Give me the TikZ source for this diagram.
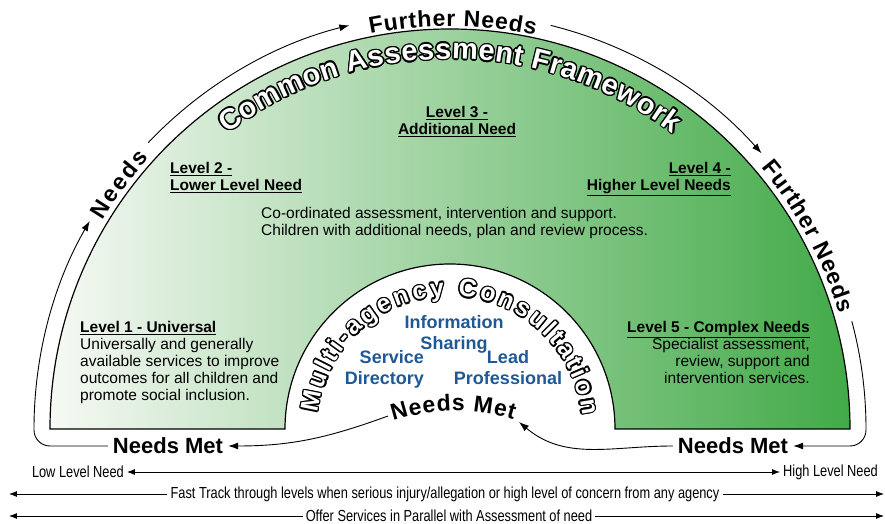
\documentclass[tikz,border=0pt]{standalone}
\usepackage{fontspec}
\setmainfont{Liberation Sans}
\newfontfamily\narrowfont[FakeStretch=0.8]{Liberation Sans}
\usetikzlibrary{arrows.meta,decorations.text}
\definecolor{paleleaf}{RGB}{246,249,244}
\definecolor{deepleaf}{RGB}{66,170,72}
\definecolor{infoblue}{RGB}{31,88,150}
\newcommand\loopfont{\fontsize{23}{23}\selectfont\bfseries}
\newcommand\framefont{\fontsize{29}{29}\selectfont\bfseries}
\newcommand\agencyfont{\fontsize{25}{25}\selectfont\bfseries}

\begin{document}
\begin{tikzpicture}[x=1pt,y=1pt,
    body/.style={inner sep=0pt,font=\fontsize{15.5}{17}\selectfont},
    blue/.style={inner sep=0pt,text=infoblue,font=\fontsize{18}{21}\selectfont\bfseries},
    needsmet/.style={inner sep=5pt,font=\fontsize{22}{22}\selectfont\bfseries},
    narrow/.style={inner sep=3pt,font=\fontsize{16}{16}\narrowfont},
    arctext/.style={decorate,decoration={text along path,text align=fit to path,text={#1}}},
    loopline/.style={line width=0.9pt,-{Latex[length=10pt,width=7pt]}},
    twoway/.style={line width=0.8pt,{Latex[length=8pt,width=6pt]}-{Latex[length=8pt,width=6pt]}},
    oneway/.style={line width=0.8pt,-{Latex[length=8pt,width=6pt]}}]
  \useasboundingbox (-450,-95) rectangle (435,429);

  % the banded half disc with the arch cut out
  \path[left color=paleleaf,right color=deepleaf,draw=black,line width=1.2pt]
    (-400,0) arc[start angle=180,end angle=0,radius=400]
    -- (165,0) arc[start angle=0,end angle=180,radius=165] -- cycle;

  % outlined titles: black copies round about, white on top
  \foreach \a in {0,30,...,330} {
    \path[shift={(\a:1.4)},arctext={|\framefont|Common Assessment Framework},
      decoration={text color=black}]
      (127:370) arc[start angle=127,end angle=53,radius=370];
    \path[shift={(\a:1.4)},arctext={|\agencyfont|Multi-agency Consultation},
      decoration={text color=black}]
      (173:133) arc[start angle=173,end angle=6,radius=133];
  }
  \path[arctext={|\framefont|Common Assessment Framework},decoration={text color=white}]
    (127:370) arc[start angle=127,end angle=53,radius=370];
  \path[arctext={|\agencyfont|Multi-agency Consultation},decoration={text color=white}]
    (173:133) arc[start angle=173,end angle=6,radius=133];

  % levels
  \node[body,align=center,anchor=north] (lvl3) at (7,323)
    {\underline{\textbf{Level 3 -}}\\\underline{\textbf{Additional Need}}};
  \node[body,align=left,anchor=north west] (lvl2) at (-280,267)
    {\underline{\textbf{Level 2 -}}\\\underline{\textbf{Lower Level Need}}};
  \node[body,align=right,anchor=north east] (lvl4) at (281,267)
    {\underline{\textbf{Level 4 -}}\\\underline{\textbf{Higher Level Needs}}};
  \node[body,align=left,anchor=north west] (coord) at (-189,222)
    {Co-ordinated assessment, intervention and support.\\Children with additional needs, plan and review process.};
  \node[body,align=left,anchor=north west] (lvl1) at (-370,108)
    {\underline{\textbf{Level 1 - Universal}}\\Universally and generally\\available services to improve\\outcomes for all children and\\promote social inclusion.};
  \node[body,align=right,anchor=north east] (lvl5) at (360,108)
    {\underline{\textbf{Level 5 - Complex Needs}}\\Specialist assessment,\\review, support and\\intervention services.};

  % multi-agency tools
  \node[blue,align=center,anchor=north] (info) at (4,114) {Information\\Sharing};
  \node[blue,align=right,anchor=north east] (service) at (-26,79) {Service\\Directory};
  \node[blue,align=center,anchor=north] (lead) at (58,79) {Lead\\Professional};

  % needs met
  \node[needsmet] (nmL) at (-282,-17) {Needs Met};
  \node[needsmet] (nmR) at (283,-17) {Needs Met};
  \path[arctext={|\fontsize{23}{23}\selectfont\bfseries|Needs Met},decoration={text align=center}]
    (5,-182) ++(108:200) arc[start angle=108,end angle=73,radius=200];
  \coordinate (innerL) at (-62,13);
  \coordinate (innerR) at (69,7);
  \draw[loopline] (innerL) to[out=200,in=0] (nmL.east);
  \draw[loopline] (nmR.west) to[out=180,in=-40] (innerR);

  % the loop round the outside
  \draw[loopline] (nmL.west) -- (-400,-17) arc[start angle=270,end angle=180,radius=16]
    -- (180:416) arc[start angle=180,end angle=150,radius=416];
  \draw[loopline] (136.5:416) arc[start angle=136.5,end angle=104,radius=416];
  \draw[loopline] (76:416) arc[start angle=76,end angle=41.5,radius=416];
  \draw[loopline] (15:416) arc[start angle=15,end angle=0,radius=416]
    -- ++(0,-1) arc[start angle=0,end angle=-90,radius=16] -- (nmR.east);
  \path[arctext={|\loopfont|Needs}]
    (149:405) arc[start angle=149,end angle=138,radius=405];
  \path[arctext={|\loopfont|Further Needs}]
    (101.4:403) arc[start angle=101.4,end angle=77.8,radius=403];
  \path[arctext={|\loopfont|Further Needs}]
    (40:406) arc[start angle=40,end angle=16.5,radius=406];

  % scale and tracks underneath
  \node[narrow,anchor=east] (lowlvl) at (-323,-43) {Low Level Need};
  \node[narrow,anchor=west] (highlvl) at (330,-43) {High Level Need};
  \draw[twoway] (lowlvl) -- (highlvl);
  \node[narrow] (fasttrack) at (-5,-65)
    {Fast Track through levels when serious injury/allegation or high level of concern from any agency};
  \coordinate (ftL) at (-441,-65);
  \coordinate (ftR) at (434,-65);
  \draw[oneway] (fasttrack.west) -- (ftL);
  \draw[oneway] (fasttrack.east) -- (ftR);
  \node[narrow] (parallel) at (-1,-87) {Offer Services in Parallel with Assessment of need};
  \coordinate (parL) at (-441,-87);
  \coordinate (parR) at (434,-87);
  \draw[oneway] (parallel.west) -- (parL);
  \draw[oneway] (parallel.east) -- (parR);
\end{tikzpicture}
\end{document}
